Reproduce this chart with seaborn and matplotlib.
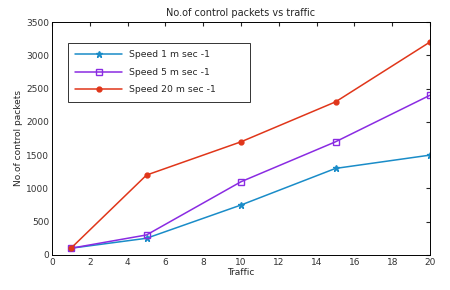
import pandas as pd
import seaborn as sns
import matplotlib.pyplot as plt

# traffic values and control packet counts
traffic = [1, 5, 10, 15, 20]
speed_1 = [100, 250, 750, 1300, 1500]
speed_5 = [100, 300, 1100, 1700, 2400]
speed_20 = [100, 1200, 1700, 2300, 3200]
series_names = ["Speed 1 m sec -1", "Speed 5 m sec -1", "Speed 20 m sec -1"]

df = pd.DataFrame({
    "Traffic": traffic * 3,
    "Packets": speed_1 + speed_5 + speed_20,
    "Series": sum([[n] * len(traffic) for n in series_names], []),
})

sns.set_style("white")
plt.rcParams["font.family"] = ["DejaVu Sans"]

palette = {series_names[0]: "#1a8cc8", series_names[1]: "#8a2be2", series_names[2]: "#e0361a"}
markers = {series_names[0]: "*", series_names[1]: "s", series_names[2]: "o"}

fig = plt.figure(figsize=(4.5, 2.9), dpi=100)
ax = fig.add_axes([0.1156, 0.121, 0.84, 0.803])

for name in series_names:
    sub = df[df["Series"] == name]
    sns.lineplot(data=sub, x="Traffic", y="Packets", ax=ax, color=palette[name],
                 marker=markers[name], markersize=5 if markers[name] != "o" else 3.5,
                 markerfacecolor="none" if markers[name] == "s" else palette[name],
                 markeredgecolor=palette[name], markeredgewidth=1.0,
                 linewidth=1.1, label=name)

ax.set_xlim(0, 20)
ax.set_ylim(0, 3500)
ax.set_xticks(range(0, 21, 2))
ax.set_yticks(range(0, 3501, 500))
ax.tick_params(direction="in", top=True, right=True, length=3, labelsize=6.5, pad=2,
               labelcolor="#333333")
for s in ax.spines.values():
    s.set_linewidth(0.7)
    s.set_color("black")
ax.set_xlabel("Traffic", fontsize=6.5, labelpad=1)
ax.set_ylabel("No.of control packets", fontsize=6.5, labelpad=2)
ax.set_title("No.of control packets vs traffic", fontsize=7, pad=4)

# wide box like the MATLAB legend, extra room on the right
leg = ax.legend(loc="upper left", bbox_to_anchor=(0.042, 0.648, 0.482, 0.262),
                mode="expand", borderaxespad=0, fontsize=6.7,
                frameon=True, fancybox=False, edgecolor="black", handlelength=5,
                borderpad=0.8, labelspacing=0.9)
leg.get_frame().set_linewidth(0.7)

fig.savefig("out.png", dpi=100)
